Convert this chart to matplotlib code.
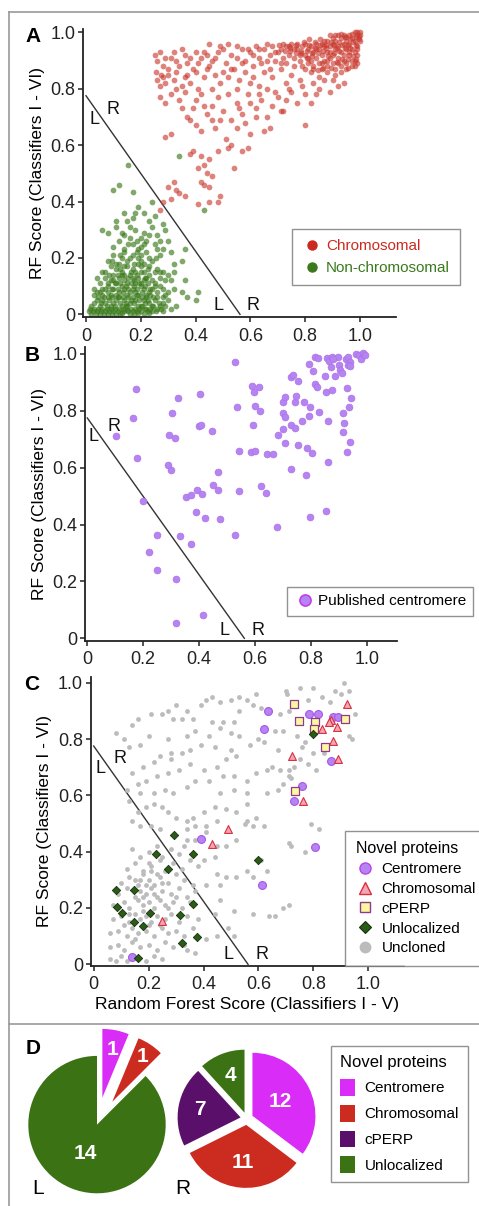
import numpy as np
import matplotlib
matplotlib.use('Agg')
import matplotlib.pyplot as plt
from matplotlib.lines import Line2D
from matplotlib.patches import Patch

plt.rcParams['font.family'] = ['Liberation Sans', 'DejaVu Sans']

# ---------------- data ----------------
tick_vals = [0, 0.2, 0.4, 0.6, 0.8, 1.0]
tick_labels = ['0', '0.2', '0.4', '0.6', '0.8', '1.0']
boundary_x = [0.0, 0.562]
boundary_y = [0.775, 0.0]

# Panel A: chromosomal (red)
chrom_xy = [
    (0.25,0.92),(0.26,0.90),(0.27,0.93),(0.28,0.88),(0.31,0.91),(0.30,0.87),(0.33,0.90),(0.36,0.92),(0.37,0.89),
    (0.40,0.93),(0.42,0.91),(0.45,0.96),(0.46,0.90),(0.48,0.93),(0.50,0.94),(0.53,0.92),(0.55,0.95),(0.57,0.94),
    (0.58,0.90),(0.60,0.93),(0.62,0.95),(0.63,0.91),(0.65,0.94),(0.67,0.92),(0.68,0.95),(0.70,0.93),(0.72,0.91),
    (0.74,0.95),(0.76,0.94),(0.78,0.92),(0.35,0.94),(0.44,0.92),(0.52,0.96),(0.61,0.92),(0.66,0.96),(0.69,0.90),
    (0.26,0.83),(0.27,0.81),(0.28,0.84),(0.29,0.82),(0.30,0.85),(0.32,0.83),(0.33,0.86),(0.35,0.81),(0.37,0.85),
    (0.38,0.82),(0.40,0.86),(0.41,0.80),(0.43,0.84),(0.44,0.87),(0.47,0.85),(0.49,0.82),(0.50,0.86),(0.52,0.84),
    (0.54,0.87),(0.56,0.83),(0.58,0.86),(0.61,0.84),(0.63,0.81),(0.65,0.86),(0.68,0.84),(0.71,0.87),(0.73,0.82),
    (0.75,0.85),(0.78,0.83),(0.80,0.87),(0.83,0.82),(0.85,0.84),(0.88,0.86),(0.90,0.83),(0.94,0.82),(0.82,0.86),
    (0.27,0.77),(0.29,0.75),(0.31,0.78),(0.34,0.76),(0.36,0.79),(0.39,0.73),(0.40,0.76),(0.42,0.78),(0.44,0.71),
    (0.46,0.74),(0.48,0.77),(0.50,0.72),(0.52,0.78),(0.55,0.75),(0.57,0.71),(0.59,0.78),(0.62,0.73),(0.64,0.76),
    (0.66,0.70),(0.68,0.74),(0.70,0.77),(0.72,0.72),(0.73,0.76),(0.75,0.79),(0.77,0.75),(0.80,0.78),(0.82,0.75),
    (0.85,0.80),(0.89,0.79),(0.92,0.81),
    (0.29,0.63),(0.31,0.64),(0.38,0.69),(0.40,0.67),(0.42,0.65),(0.46,0.69),(0.47,0.66),(0.51,0.62),(0.53,0.69),
    (0.55,0.66),(0.58,0.68),(0.62,0.70),(0.65,0.65),(0.67,0.66),(0.71,0.72),(0.80,0.67),(0.60,0.64),
    (0.38,0.57),(0.39,0.58),(0.42,0.56),(0.41,0.52),(0.43,0.53),(0.45,0.55),(0.52,0.59),(0.53,0.60),(0.54,0.52),
    (0.57,0.58),(0.59,0.59),(0.48,0.58),(0.44,0.50),(0.46,0.49),
    (0.30,0.45),(0.32,0.47),(0.34,0.43),(0.36,0.42),(0.42,0.47),(0.43,0.46),(0.45,0.45),(0.49,0.42),(0.48,0.40),
    (0.45,0.40),(0.41,0.39),(0.33,0.44),(0.27,0.37),(0.28,0.40),(0.31,0.41),
    (0.90,0.98),(0.92,0.99),(0.94,0.99),(0.96,0.99),(0.98,1.00),(0.99,0.99),(1.00,1.00),(0.97,0.98),(0.95,0.97),
    (0.93,0.98),(0.91,0.97),(0.88,0.97),(0.86,0.96),(0.89,0.99),(0.985,0.985),(0.965,0.975),(0.945,0.985),
    (0.925,0.965),(0.905,0.955),(0.875,0.955),(0.855,0.975),(0.835,0.965),(0.815,0.975),(0.795,0.965),
    (0.80,0.96),(0.82,0.95),(0.84,0.96),(0.85,0.94),(0.87,0.95),(0.89,0.95),(0.90,0.96),(0.92,0.95),(0.94,0.96),
    (0.96,0.96),(0.98,0.97),(0.99,0.95),(0.97,0.94),(0.95,0.94),(0.93,0.93),(0.91,0.94),(0.88,0.93),(0.86,0.92),
    (0.83,0.93),(0.81,0.94),(0.79,0.95),(0.77,0.94),(0.75,0.96),(0.73,0.95),(0.71,0.94),(0.995,0.975),
    (0.985,0.955),(0.965,0.945),(0.945,0.945),(0.925,0.935),(0.905,0.925),(0.885,0.915),(0.865,0.935),
    (0.845,0.925),(0.825,0.915),(0.805,0.935),(0.785,0.925),(0.765,0.955),(0.745,0.935),
    (0.80,0.92),(0.82,0.90),(0.84,0.91),(0.87,0.90),(0.89,0.91),(0.90,0.89),(0.92,0.91),(0.94,0.92),(0.96,0.93),
    (0.98,0.93),(0.99,0.92),(0.97,0.90),(0.95,0.89),(0.93,0.88),(0.91,0.87),(0.88,0.88),(0.85,0.89),(0.78,0.90),
    (0.76,0.91),(0.99,0.89),(0.98,0.88),(0.975,0.915),(0.955,0.905),(0.935,0.905),(0.915,0.895),(0.895,0.875),
    (0.865,0.875),(0.845,0.865),(0.985,0.905),(0.955,0.875),(0.83,0.88),(0.81,0.89),
    (0.255,0.86),(0.275,0.85),(0.29,0.91),(0.32,0.93),(0.34,0.88),(0.36,0.84),(0.38,0.91),(0.39,0.87),(0.41,0.89),
    (0.43,0.93),(0.45,0.88),(0.47,0.91),(0.49,0.95),(0.51,0.89),(0.53,0.87),(0.55,0.91),(0.57,0.89),(0.59,0.94),
    (0.61,0.88),(0.63,0.94),(0.64,0.89),(0.66,0.90),(0.67,0.87),(0.69,0.93),(0.71,0.89),(0.72,0.96),(0.73,0.89),
    (0.74,0.92),(0.76,0.88),(0.77,0.96),(0.79,0.88),(0.81,0.91),(0.83,0.87),(0.84,0.94),(0.86,0.89),(0.87,0.97),
    (0.89,0.93),(0.91,0.99),(0.93,0.995),(0.95,0.985),(0.97,0.995),(0.99,1.00),(0.96,0.92),(0.94,0.90),(0.92,0.89),
    (0.90,0.92),(0.88,0.90),(0.86,0.87),(0.97,0.88),(0.98,0.90),(0.99,0.94),(1.00,0.97),(1.00,0.99),(0.995,0.985),
    (0.975,0.965),(0.955,0.955),(0.935,0.955),(0.915,0.945),(0.895,0.965),(0.875,0.945),(0.855,0.955),
    (0.835,0.945),(0.815,0.955),(0.805,0.91),(0.825,0.925),(0.785,0.935),(0.765,0.925),(0.745,0.945),
    (0.725,0.935),(0.705,0.955),
    (0.35,0.73),(0.37,0.70),(0.43,0.74),(0.49,0.69),(0.56,0.73),(0.60,0.75),(0.63,0.78),(0.69,0.79),(0.74,0.80),
    (0.79,0.81),(0.84,0.78),(0.87,0.83),(0.91,0.85),(0.93,0.86),(0.95,0.87),(0.60,0.82),(0.66,0.80),(0.55,0.80),
    (0.46,0.80),(0.33,0.80),
]

# Panel A: non-chromosomal (green)
nonchrom_xy = [
    (0.01,0.01),(0.02,0.00),(0.03,0.02),(0.04,0.01),(0.05,0.00),(0.06,0.02),(0.07,0.01),(0.08,0.00),(0.09,0.02),
    (0.10,0.01),(0.11,0.00),(0.12,0.02),(0.14,0.01),(0.16,0.00),(0.18,0.02),(0.20,0.01),(0.22,0.02),(0.24,0.01),
    (0.26,0.02),(0.28,0.01),(0.13,0.005),(0.15,0.015),(0.17,0.01),(0.19,0.005),(0.21,0.00),(0.23,0.005),
    (0.02,0.03),(0.04,0.05),(0.05,0.03),(0.07,0.04),(0.08,0.06),(0.10,0.04),(0.11,0.05),(0.13,0.03),(0.14,0.05),
    (0.16,0.04),(0.17,0.06),(0.19,0.03),(0.21,0.05),(0.23,0.04),(0.25,0.05),(0.28,0.04),(0.30,0.05),(0.06,0.05),
    (0.09,0.03),(0.12,0.06),(0.15,0.03),(0.18,0.05),(0.20,0.03),(0.22,0.06),(0.27,0.03),(0.24,0.03),
    (0.03,0.07),(0.05,0.08),(0.07,0.09),(0.09,0.07),(0.10,0.09),(0.12,0.08),(0.13,0.10),(0.15,0.07),(0.17,0.09),
    (0.18,0.08),(0.20,0.10),(0.22,0.07),(0.24,0.09),(0.26,0.08),(0.29,0.07),(0.32,0.09),(0.11,0.07),(0.14,0.09),
    (0.16,0.08),(0.19,0.07),(0.21,0.09),(0.23,0.08),(0.27,0.10),(0.06,0.07),(0.08,0.08),
    (0.05,0.11),(0.07,0.13),(0.09,0.12),(0.11,0.11),(0.12,0.13),(0.14,0.12),(0.16,0.14),(0.18,0.11),(0.19,0.13),
    (0.21,0.12),(0.23,0.14),(0.25,0.11),(0.27,0.13),(0.31,0.12),(0.10,0.14),(0.15,0.11),(0.17,0.13),(0.20,0.11),
    (0.22,0.13),(0.08,0.10),(0.13,0.14),
    (0.06,0.15),(0.09,0.17),(0.11,0.16),(0.13,0.15),(0.15,0.17),(0.17,0.16),(0.19,0.18),(0.21,0.15),(0.23,0.17),
    (0.26,0.16),(0.28,0.15),(0.12,0.18),(0.18,0.15),(0.20,0.17),
    (0.08,0.19),(0.10,0.21),(0.13,0.20),(0.15,0.19),(0.17,0.21),(0.19,0.20),(0.22,0.22),(0.24,0.19),(0.27,0.21),
    (0.35,0.19),(0.14,0.22),(0.20,0.19),
    (0.10,0.24),(0.12,0.26),(0.14,0.23),(0.17,0.25),(0.20,0.24),(0.22,0.26),(0.25,0.25),(0.28,0.23),(0.30,0.26),
    (0.16,0.27),(0.19,0.23),
    (0.08,0.29),(0.11,0.31),(0.14,0.28),(0.18,0.30),(0.21,0.29),(0.24,0.31),(0.26,0.28),(0.29,0.30),(0.06,0.30),
    (0.11,0.33),(0.14,0.36),(0.17,0.34),(0.19,0.38),(0.23,0.33),(0.25,0.35),(0.18,0.36),(0.24,0.40),
    (0.10,0.44),(0.12,0.46),(0.17,0.435),(0.155,0.53),(0.34,0.56),(0.43,0.37),(0.37,0.06),(0.41,0.08),(0.40,0.05),
    (0.36,0.12),(0.36,0.23),(0.33,0.03),(0.04,0.13),(0.03,0.09),(0.32,0.15),(0.35,0.08),
    (0.015,0.02),(0.025,0.01),(0.035,0.00),(0.045,0.02),(0.055,0.01),(0.065,0.00),(0.075,0.02),(0.085,0.01),
    (0.095,0.00),(0.105,0.02),(0.115,0.01),(0.125,0.00),(0.135,0.02),(0.145,0.03),(0.155,0.01),(0.165,0.02),
    (0.175,0.00),(0.185,0.01),(0.195,0.02),(0.205,0.03),(0.215,0.02),(0.225,0.01),(0.235,0.02),(0.245,0.03),
    (0.255,0.01),(0.265,0.04),(0.275,0.02),(0.29,0.03),(0.31,0.02),
    (0.03,0.04),(0.045,0.06),(0.055,0.04),(0.065,0.06),(0.075,0.03),(0.085,0.05),(0.095,0.06),(0.105,0.03),
    (0.115,0.06),(0.125,0.04),(0.135,0.06),(0.145,0.04),(0.155,0.06),(0.165,0.05),(0.175,0.04),(0.185,0.07),
    (0.195,0.05),(0.205,0.06),(0.215,0.04),(0.225,0.05),(0.235,0.07),(0.245,0.06),(0.26,0.06),(0.28,0.06),
    (0.04,0.08),(0.06,0.09),(0.08,0.11),(0.095,0.09),(0.105,0.11),(0.115,0.09),(0.125,0.11),(0.135,0.08),
    (0.145,0.10),(0.155,0.09),(0.165,0.11),(0.175,0.10),(0.185,0.09),(0.195,0.11),(0.205,0.08),(0.215,0.10),
    (0.225,0.11),(0.235,0.09),(0.25,0.10),(0.28,0.09),(0.30,0.08),
    (0.07,0.15),(0.085,0.14),(0.10,0.12),(0.115,0.14),(0.125,0.16),(0.14,0.14),(0.155,0.13),(0.165,0.15),
    (0.175,0.12),(0.185,0.14),(0.20,0.15),(0.215,0.13),(0.225,0.16),(0.24,0.12),(0.25,0.15),(0.27,0.15),(0.29,0.12),
    (0.095,0.19),(0.11,0.18),(0.125,0.21),(0.14,0.17),(0.16,0.20),(0.175,0.18),(0.185,0.22),(0.20,0.21),(0.21,0.18),
    (0.23,0.20),(0.255,0.20),(0.26,0.23),(0.155,0.25),(0.185,0.26),(0.21,0.25),(0.13,0.29),(0.16,0.31),(0.20,0.27),
    (0.23,0.28),(0.27,0.26),(0.15,0.33),(0.21,0.36),(0.28,0.32),(0.31,0.22),(0.32,0.18),(0.30,0.14),
]

# Panel B: published centromere proteins
centro_pub_xy = [
    (0.174,0.876),(0.163,0.774),(0.104,0.712),(0.177,0.634),(0.323,0.845),(0.403,0.859),(0.304,0.793),
    (0.294,0.714),(0.313,0.706),(0.400,0.748),(0.407,0.750),(0.445,0.729),(0.290,0.609),(0.298,0.592),
    (0.198,0.483),(0.352,0.496),(0.370,0.504),(0.391,0.522),(0.409,0.508),(0.451,0.540),(0.467,0.522),
    (0.468,0.586),(0.389,0.443),(0.422,0.422),(0.475,0.421),(0.249,0.362),(0.333,0.360),(0.372,0.332),
    (0.221,0.305),(0.251,0.240),(0.316,0.208),(0.414,0.083),(0.317,0.053),(0.530,0.972),(0.536,0.812),
    (0.543,0.660),(0.542,0.517),(0.530,0.362),(0.588,0.888),(0.597,0.868),(0.616,0.884),(0.601,0.816),
    (0.618,0.801),(0.592,0.751),(0.585,0.654),(0.601,0.660),(0.621,0.537),(0.639,0.512),(0.643,0.647),
    (0.663,0.650),(0.680,0.393),(0.683,0.715),(0.700,0.832),(0.706,0.850),(0.702,0.791),(0.709,0.777),
    (0.702,0.736),(0.707,0.688),(0.728,0.594),(0.729,0.920),(0.737,0.926),(0.730,0.752),(0.744,0.741),
    (0.744,0.830),(0.746,0.852),(0.754,0.904),(0.754,0.679),(0.770,0.764),(0.776,0.830),(0.783,0.576),
    (0.788,0.670),(0.792,0.782),(0.797,0.812),(0.803,0.651),(0.796,0.425),(0.795,0.964),(0.807,0.940),
    (0.816,0.989),(0.827,0.985),(0.816,0.893),(0.823,0.885),(0.829,0.797),(0.851,0.922),(0.854,0.867),
    (0.861,0.766),(0.862,0.621),(0.853,0.449),(0.859,0.985),(0.866,0.977),(0.875,0.988),(0.871,0.955),
    (0.877,0.874),(0.888,0.924),(0.898,0.991),(0.901,0.962),(0.904,0.942),(0.912,0.934),(0.916,0.791),
    (0.917,0.759),(0.914,0.726),(0.926,0.981),(0.934,0.988),(0.940,0.973),(0.934,0.961),(0.942,0.958),
    (0.929,0.880),(0.938,0.812),(0.943,0.846),(0.940,0.689),(0.929,0.654),(0.962,1.000),(0.974,0.998),
    (0.979,0.981),(0.988,1.002),(0.994,0.995),(0.880,0.983),
]

# Panel C: uncloned (grey)
uncloned_xy = [
    (0.43,0.95),(0.41,0.94),(0.46,0.93),(0.50,0.94),(0.53,0.95),(0.56,0.94),(0.59,0.96),(0.70,0.97),(0.705,0.96),
    (0.75,0.98),(0.80,0.98),(0.83,0.95),(0.91,1.00),(0.88,0.97),(0.93,0.97),(0.95,0.89),(0.94,0.80),(0.93,0.81),
    (0.90,0.96),(0.30,0.92),(0.27,0.90),(0.25,0.89),(0.21,0.89),(0.16,0.87),(0.14,0.85),(0.08,0.82),(0.39,0.92),
    (0.34,0.90),(0.32,0.87),(0.29,0.87),(0.36,0.87),(0.43,0.86),(0.47,0.86),(0.51,0.86),(0.53,0.90),(0.58,0.92),
    (0.61,0.91),(0.66,0.83),(0.68,0.89),(0.71,0.90),(0.69,0.83),(0.74,0.81),(0.77,0.79),(0.76,0.77),(0.80,0.75),
    (0.84,0.75),(0.67,0.76),(0.62,0.79),(0.60,0.80),(0.57,0.78),(0.53,0.81),(0.50,0.82),(0.46,0.84),(0.42,0.81),
    (0.37,0.83),(0.34,0.81),(0.27,0.80),(0.20,0.81),(0.17,0.78),(0.13,0.77),(0.11,0.80),(0.86,0.93),(0.78,0.94),
    (0.14,0.68),(0.18,0.70),(0.22,0.72),(0.24,0.74),(0.28,0.75),(0.28,0.73),(0.32,0.75),(0.35,0.76),(0.39,0.78),
    (0.44,0.77),(0.50,0.76),(0.52,0.74),(0.48,0.73),(0.45,0.70),(0.40,0.69),(0.35,0.71),(0.31,0.69),(0.27,0.68),
    (0.23,0.67),(0.19,0.65),(0.16,0.64),(0.12,0.62),(0.13,0.58),(0.17,0.61),(0.22,0.61),(0.26,0.62),(0.29,0.61),
    (0.34,0.63),(0.37,0.65),(0.42,0.65),(0.47,0.67),(0.51,0.67),(0.56,0.65),(0.59,0.68),(0.63,0.69),(0.65,0.70),
    (0.68,0.69),(0.71,0.67),(0.75,0.73),(0.78,0.71),(0.81,0.69),(0.63,0.61),(0.67,0.62),(0.69,0.64),(0.71,0.69),
    (0.51,0.62),(0.56,0.61),(0.46,0.61),(0.72,0.66),(0.73,0.70),
    (0.14,0.51),(0.16,0.54),(0.19,0.56),(0.22,0.57),(0.25,0.56),(0.27,0.54),(0.30,0.52),(0.34,0.51),(0.36,0.52),
    (0.40,0.54),(0.44,0.56),(0.45,0.51),(0.48,0.55),(0.52,0.54),(0.56,0.57),(0.59,0.52),(0.56,0.51),(0.58,0.49),
    (0.62,0.49),(0.55,0.50),(0.71,0.43),(0.72,0.42),(0.79,0.50),(0.82,0.48),(0.77,0.40),(0.17,0.49),(0.21,0.49),
    (0.24,0.48),(0.34,0.48),(0.37,0.49),(0.41,0.49),(0.34,0.44),(0.37,0.44),(0.41,0.47),(0.45,0.42),(0.48,0.42),
    (0.52,0.44),(0.44,0.38),(0.40,0.37),
    (0.45,0.32),(0.48,0.31),(0.52,0.31),(0.46,0.28),(0.41,0.28),(0.51,0.19),(0.58,0.18),(0.64,0.17),(0.66,0.17),
    (0.69,0.20),(0.71,0.21),(0.46,0.23),(0.44,0.18),(0.49,0.13),(0.51,0.10),(0.45,0.10),(0.41,0.09),(0.37,0.04),
    (0.34,0.05),(0.61,0.37),(0.63,0.33),(0.56,0.33),(0.58,0.31),
    (0.14,0.41),(0.17,0.38),(0.20,0.40),(0.23,0.42),(0.25,0.38),(0.28,0.41),(0.31,0.39),(0.33,0.42),
    (0.12,0.34),(0.15,0.36),(0.18,0.33),(0.21,0.35),(0.24,0.37),(0.26,0.33),(0.29,0.36),(0.32,0.34),(0.35,0.37),
    (0.38,0.35),(0.10,0.29),(0.13,0.31),(0.16,0.28),(0.18,0.32),(0.20,0.30),(0.22,0.28),(0.24,0.31),(0.27,0.29),
    (0.30,0.32),(0.33,0.30),(0.36,0.28),(0.09,0.25),(0.12,0.27),(0.15,0.24),(0.17,0.26),(0.19,0.25),(0.21,0.27),
    (0.23,0.24),(0.25,0.26),(0.28,0.25),(0.31,0.27),(0.34,0.24),(0.37,0.26),(0.07,0.21),(0.11,0.22),(0.13,0.20),
    (0.16,0.23),(0.18,0.21),(0.20,0.22),(0.22,0.20),(0.24,0.23),(0.26,0.21),(0.29,0.22),(0.32,0.20),(0.35,0.22),
    (0.07,0.16),(0.10,0.17),(0.13,0.15),(0.15,0.18),(0.17,0.16),(0.19,0.17),(0.21,0.15),(0.23,0.17),(0.26,0.16),
    (0.28,0.18),(0.31,0.15),(0.34,0.17),(0.38,0.16),(0.06,0.11),(0.09,0.12),(0.12,0.10),(0.14,0.13),(0.16,0.11),
    (0.19,0.12),(0.22,0.10),(0.25,0.13),(0.27,0.11),(0.30,0.12),(0.33,0.10),(0.36,0.13),(0.06,0.06),(0.09,0.07),
    (0.11,0.05),(0.14,0.08),(0.17,0.06),(0.20,0.07),(0.23,0.05),(0.26,0.08),(0.29,0.06),(0.33,0.07),(0.06,0.02),
    (0.08,0.01),(0.10,0.03),(0.12,0.01),(0.16,0.02),(0.19,0.01),(0.22,0.03),(0.25,0.02),(0.19,0.28),(0.23,0.32),
    (0.17,0.30),(0.21,0.33),(0.15,0.30),(0.25,0.29),(0.18,0.24),(0.22,0.25),(0.20,0.36),(0.27,0.34),(0.13,0.18),
    (0.18,0.19),(0.24,0.14),(0.15,0.09),(0.20,0.14),(0.11,0.14),(0.27,0.20),(0.30,0.24),
]

# Panel C: novel proteins by localization
centro_new_xy = [(0.634,0.899),(0.621,0.834),(0.785,0.889),(0.818,0.889),(0.870,0.877),(0.891,0.879),(0.863,0.723),
                 (0.760,0.634),(0.731,0.581),(0.391,0.445),(0.807,0.418),(0.612,0.282),(0.140,0.027)]
chrom_new_xy = [(0.924,0.923),(0.863,0.867),(0.885,0.844),(0.831,0.836),(0.870,0.794),(0.722,0.741),(0.888,0.728),
                (0.763,0.581),(0.490,0.481),(0.431,0.427),(0.249,0.154),(0.858,0.862)]
cperp_xy = [(0.729,0.924),(0.746,0.863),(0.807,0.862),(0.802,0.836),(0.916,0.871),(0.841,0.770),(0.733,0.615)]
unloc_xy = [(0.797,0.819),(0.292,0.460),(0.227,0.393),(0.363,0.391),(0.272,0.340),(0.081,0.264),(0.147,0.264),
            (0.085,0.205),(0.102,0.183),(0.205,0.181),(0.363,0.215),(0.146,0.149),(0.180,0.137),(0.314,0.175),
            (0.375,0.098),(0.322,0.075),(0.597,0.369),(0.161,0.024)]

# Panel D: pie counts
pie_L_labels = ['Centromere', 'Chromosomal', 'Unlocalized']
pie_L_counts = [1, 1, 14]
pie_R_labels = ['Centromere', 'Chromosomal', 'cPERP', 'Unlocalized']
pie_R_counts = [12, 11, 7, 4]
legend_D_labels = ['Centromere', 'Chromosomal', 'cPERP', 'Unlocalized']

# ---------------- style ----------------
RED = '#c9372c'
GREEN = '#3a7a1a'
LAV = '#b683f2'
GREY = '#bcbcbc'
PIE_COL = {'Centromere': '#d92cf6', 'Chromosomal': '#cc2b1f', 'cPERP': '#5a0f6b', 'Unlocalized': '#3b7314'}

W, H = 479, 1206
fig = plt.figure(figsize=(W / 100, H / 100), dpi=100)


def fx(px):
    return px / W


def fy(py):
    return 1 - py / H


def make_axes(x0px, x1px, y0px, y1px, left, right, top, bottom):
    """x0px/x1px: pixel of x=0 / x=1; y0px/y1px: pixel of y=0 / y=1"""
    sx = (x1px - x0px)
    sy = (y0px - y1px)
    ax = fig.add_axes([left / W, 1 - bottom / H, (right - left) / W, (bottom - top) / H])
    ax.set_xlim((left - x0px) / sx, (right - x0px) / sx)
    ax.set_ylim((y0px - bottom) / sy, (y0px - top) / sy)
    ax.patch.set_alpha(0)
    for s in ['top', 'right']:
        ax.spines[s].set_visible(False)
    for s in ['left', 'bottom']:
        ax.spines[s].set_linewidth(1.3)
        ax.spines[s].set_color('#222222')
    ax.set_xticks(tick_vals)
    ax.set_xticklabels(tick_labels)
    ax.set_yticks(tick_vals)
    ax.set_yticklabels(tick_labels)
    ax.tick_params(direction='out', length=3.5, width=1.1, colors='#222222', labelsize=13, pad=2)
    ax.tick_params(axis='x', pad=4)
    ax.plot(boundary_x, boundary_y, color='#333333', lw=1.0, zorder=1)
    return ax


def lr_labels(ax, pos):
    for (x, y, t) in pos:
        ax.text(x, y, t, fontsize=13, ha='center', va='center', color='#111111')


def xy(lst):
    a = np.array(lst, dtype=float)
    return a[:, 0], a[:, 1]


# ---------------- Panel A ----------------
axA = make_axes(86, 360, 314.3, 32.3, 83.3, 395.6, 29.3, 317.3)
gx, gy = xy(nonchrom_xy)
rx, ry = xy(chrom_xy)
axA.scatter(gx, gy, s=17, color=GREEN, alpha=0.65, linewidths=0, zorder=2)
axA.scatter(rx, ry, s=17, color=RED, alpha=0.62, linewidths=0, zorder=2)
lr_labels(axA, [(0.03, 0.69, 'L'), (0.10, 0.725, 'R'), (0.485, 0.03, 'L'), (0.61, 0.03, 'R')])
axA.set_ylabel('RF Score (Classifiers I - VI)', fontsize=12.5)
hA = [Line2D([], [], ls='none', marker='o', ms=6.5, mfc='#cc2a20', mec='#cc2a20'),
      Line2D([], [], ls='none', marker='o', ms=6.5, mfc='#3a7a1c', mec='#3a7a1c')]
legA = axA.legend(hA, ['Chromosomal', 'Non-chromosomal'], loc='upper left',
                  bbox_to_anchor=(fx(291.7), fy(229.3)), bbox_transform=fig.transFigure,
                  frameon=True, fancybox=False, edgecolor='#777777', fontsize=11,
                  handletextpad=0.2, labelspacing=0.5, borderpad=0.65, handlelength=1.4,
                  borderaxespad=0)
legA.get_frame().set_linewidth(1.0)
for t, c in zip(legA.get_texts(), ['#cc2a20', '#3a7a1c']):
    t.set_color(c)

# ---------------- Panel B ----------------
axB = make_axes(87.3, 366.7, 638.3, 354.0, 85.0, 396.7, 346.7, 641.0)
bx, by = xy(centro_pub_xy)
axB.scatter(bx, by, s=25, color=LAV, edgecolors='#a86ee8', linewidths=0.4, zorder=2)
lr_labels(axB, [(0.022, 0.71, 'L'), (0.095, 0.745, 'R'), (0.49, 0.027, 'L'), (0.61, 0.027, 'R')])
axB.set_ylabel('RF Score (Classifiers I - VI)', fontsize=12.5)
hB = [Line2D([], [], ls='none', marker='o', ms=8, mfc=LAV, mec='#c040e8', mew=1.2)]
legB = axB.legend(hB, ['Published centromere'], loc='upper left',
                  bbox_to_anchor=(fx(287), fy(586.7)), bbox_transform=fig.transFigure,
                  frameon=True, fancybox=False, edgecolor='#777777', fontsize=11,
                  handletextpad=0.2, borderpad=0.5, handlelength=1.3, borderaxespad=0)
legB.get_frame().set_linewidth(1.0)

# ---------------- Panel C ----------------
axC = make_axes(93.7, 368.3, 964.3, 682.7, 90.7, 404.0, 676.7, 965.7)
ux, uy = xy(uncloned_xy)
axC.scatter(ux, uy, s=12, color=GREY, linewidths=0, zorder=2)
cx, cy = xy(centro_new_xy)
axC.scatter(cx, cy, s=32, color=LAV, edgecolors='#a855e8', linewidths=0.8, zorder=4)
tx, ty = xy(chrom_new_xy)
axC.scatter(tx, ty, s=32, marker='^', color='#f6a3b4', edgecolors='#d8303e', linewidths=0.8, zorder=4)
qx, qy = xy(cperp_xy)
axC.scatter(qx, qy, s=30, marker='s', color='#fdf7a0', edgecolors='#8b3d8b', linewidths=0.9, zorder=4)
dx, dy = xy(unloc_xy)
axC.scatter(dx, dy, s=18, marker='D', color='#2c5a18', edgecolors='#15300a', linewidths=0.6, zorder=4)
lr_labels(axC, [(0.023, 0.696, 'L'), (0.096, 0.731, 'R'), (0.49, 0.036, 'L'), (0.614, 0.036, 'R')])
axC.set_ylabel('RF Score (Classifiers I - VI)', fontsize=12.5)
axC.set_xlabel('Random Forest Score (Classifiers I - V)', fontsize=12.5, labelpad=3)
hC = [Line2D([], [], ls='none', marker='o', ms=8, mfc=LAV, mec='#c040e8', mew=1.0),
      Line2D([], [], ls='none', marker='^', ms=8, mfc='#f6a3b4', mec='#d8303e', mew=1.0),
      Line2D([], [], ls='none', marker='s', ms=7.5, mfc='#fdf7a0', mec='#8b3d8b', mew=1.0),
      Line2D([], [], ls='none', marker='D', ms=6, mfc='#2c5a18', mec='#15300a', mew=0.8),
      Line2D([], [], ls='none', marker='o', ms=7.5, mfc=GREY, mec=GREY)]
legC = axC.legend(hC, ['Centromere', 'Chromosomal', 'cPERP', 'Unlocalized', 'Uncloned'],
                  title='Novel proteins', title_fontsize=11.5, alignment='left', loc='upper left',
                  bbox_to_anchor=(fx(345), fy(830.7)), bbox_transform=fig.transFigure,
                  frameon=True, fancybox=False, edgecolor='#777777', fontsize=11,
                  handletextpad=0.5, labelspacing=0.38, borderpad=0.7, handlelength=1.2,
                  borderaxespad=0)
legC.get_frame().set_linewidth(1.0)

# panel letters
for (x, y, t) in [(33, 37, 'A'), (32, 355, 'B'), (32, 684, 'C'), (33, 1048, 'D')]:
    fig.text(fx(x), fy(y), t, fontsize=15, fontweight='bold', ha='center', va='center')


# ---------------- Panel D: pies ----------------
def pie_axes(cx_px, cy_px, r_px, half):
    hp = r_px * half
    ax = fig.add_axes([(cx_px - hp) / W, 1 - (cy_px + hp) / H, 2 * hp / W, 2 * hp / H])
    ax.patch.set_alpha(0)
    return ax


axL = pie_axes(97, 1124.6, 68.7, 1.5)
wL, _ = axL.pie(pie_L_counts, colors=[PIE_COL[k] for k in pie_L_labels], startangle=90,
                counterclock=False, explode=[0.4, 0.4, 0.0], radius=1.0,
                wedgeprops=dict(linewidth=0))
axL.set_xlim(-1.5, 1.5)
axL.set_ylim(-1.5, 1.5)
axL.set_aspect('equal')
axL.axis('off')

axR = pie_axes(246.8, 1118.6, 63.0, 1.6)
wR, _ = axR.pie(pie_R_counts, colors=[PIE_COL[k] for k in pie_R_labels], startangle=90,
                counterclock=False, explode=[0.1, 0.1, 0.1, 0.1], radius=1.0,
                wedgeprops=dict(linewidth=0))
axR.set_xlim(-1.6, 1.6)
axR.set_ylim(-1.6, 1.6)
axR.set_aspect('equal')
axR.axis('off')


def pie_text(ax, wedges, counts, dists):
    for w, n, d in zip(wedges, counts, dists):
        mid = np.deg2rad((w.theta1 + w.theta2) / 2)
        cx, cy = w.center
        ax.text(cx + d * w.r * np.cos(mid), cy + d * w.r * np.sin(mid), str(n),
                color='white', fontsize=15, fontweight='bold', ha='center', va='center')


pie_text(axL, wL, pie_L_counts, [0.72, 0.8, 0.45])
pie_text(axR, wR, pie_R_counts, [0.5, 0.6, 0.65, 0.63])

fig.text(fx(38), fy(1188), 'L', fontsize=15, ha='center', va='center')
fig.text(fx(183), fy(1188), 'R', fontsize=15, ha='center', va='center')

hD = [Patch(facecolor=PIE_COL[k], edgecolor='none') for k in legend_D_labels]
legD = fig.legend(hD, legend_D_labels, title='Novel proteins', title_fontsize=12, alignment='left',
                  loc='upper left', bbox_to_anchor=(fx(331), fy(1045.7)), bbox_transform=fig.transFigure,
                  frameon=True, fancybox=False, edgecolor='#777777', fontsize=11,
                  handletextpad=0.6, labelspacing=0.6, borderpad=0.6, handlelength=1.0, handleheight=1.3,
                  borderaxespad=0)
legD.get_frame().set_linewidth(1.0)

# ---------------- frame lines ----------------
fc = '#9a9a9a'
fig.add_artist(Line2D([fx(8.7), fx(8.7)], [fy(12), fy(1206)], color=fc, lw=1.2))
fig.add_artist(Line2D([fx(8.7), fx(479)], [fy(12), fy(12)], color=fc, lw=1.2))
fig.add_artist(Line2D([fx(8.7), fx(479)], [fy(1024), fy(1024)], color=fc, lw=1.2))

fig.savefig('out.png', dpi=100)
